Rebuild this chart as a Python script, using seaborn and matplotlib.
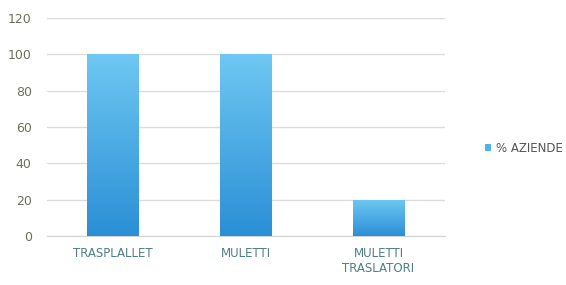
import numpy as np
import pandas as pd
import matplotlib
matplotlib.use('Agg')
import matplotlib.pyplot as plt
import seaborn as sns
from matplotlib.colors import LinearSegmentedColormap
from matplotlib.patches import Patch

categories = ['TRASPLALLET', 'MULETTI', 'MULETTI\nTRASLATORI']
values = [100, 100, 20]
series_name = '% AZIENDE'
yticks = [0, 20, 40, 60, 80, 100, 120]

df = pd.DataFrame({'cat': categories, 'val': values})

sns.set_style('white')
plt.rcParams['font.family'] = ['DejaVu Sans']

fig = plt.figure(figsize=(5.66, 2.85), dpi=100)
ax = fig.add_axes([0.083, 0.172, 0.703, 0.765])

sns.barplot(data=df, x='cat', y='val', ax=ax, width=0.39, color='#3fa9e6', zorder=3)

# gradient fill, light at top, darker at bottom
cmap = LinearSegmentedColormap.from_list('bl', ['#2b8fd6', '#6fc8f2'])
grad = np.linspace(0, 1, 256).reshape(-1, 1)
for bar in ax.patches:
    x0, y0 = bar.get_x(), bar.get_y()
    w, h = bar.get_width(), bar.get_height()
    im = ax.imshow(grad, cmap=cmap, aspect='auto', origin='lower',
                   extent=[x0, x0 + w, y0, y0 + h], zorder=4)
    im.set_clip_path(bar)
    bar.set_facecolor('none')
    bar.set_edgecolor('none')

ax.set_xlim(-0.5, 2.5)
ax.set_ylim(0, 120)
ax.set_yticks(yticks)
ax.grid(axis='y', color='#dcdcdc', linewidth=1.0, zorder=0)
for s in ['top', 'right', 'left']:
    ax.spines[s].set_visible(False)
ax.spines['bottom'].set_color('#d4d4d4')
ax.tick_params(axis='y', length=0, labelsize=9, labelcolor='#6e6e5e', pad=11)
ax.tick_params(axis='x', length=0, labelsize=8.5, labelcolor='#4f7f86', pad=8)
ax.set_xlabel('')
ax.set_ylabel('')

handles = [Patch(facecolor='#4fb4ea', edgecolor='none')]
fig.legend(handles, [series_name], loc='center left', bbox_to_anchor=(0.838, 0.48),
           frameon=False, fontsize=8.5, handlelength=0.5, handleheight=0.5,
           handletextpad=0.4, labelcolor='#555555')

fig.savefig('out.png', dpi=100, facecolor='white')
